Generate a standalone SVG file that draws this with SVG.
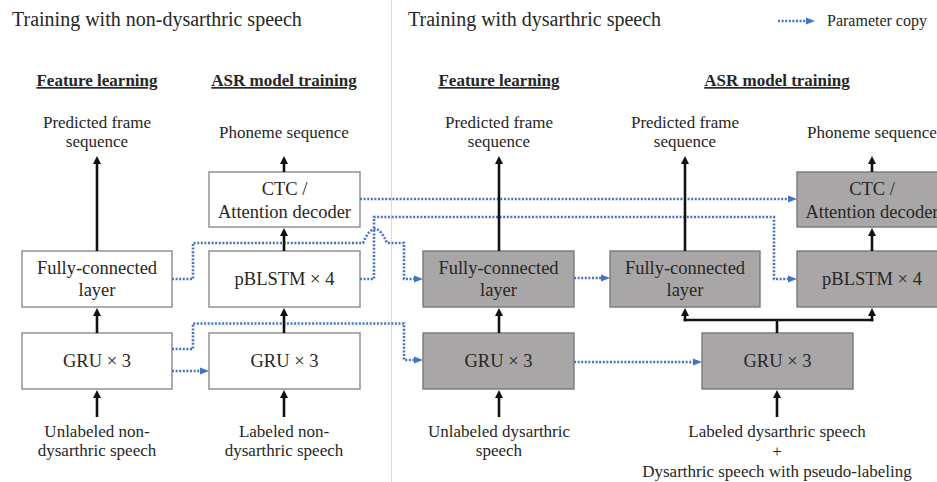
<svg xmlns="http://www.w3.org/2000/svg" width="937" height="482" viewBox="0 0 937 482" font-family="'Liberation Serif', 'DejaVu Serif', serif">
<style>
text{font-family:'Liberation Serif','DejaVu Serif',serif;fill:#262626;text-anchor:middle}
.title{font-size:20px;text-anchor:start}
.legend{font-size:16px;text-anchor:start}
.hdr{font-size:17px;font-weight:bold;text-decoration:underline}
.lbl{font-size:17px}
.box{font-size:18.5px}
.w{fill:#ffffff;stroke:#8a8a8a;stroke-width:1.4}
.g{fill:#a8a6a6;stroke:#7a7a7a;stroke-width:1.4}
.arr{fill:none;stroke:#111;stroke-width:2.6;marker-end:url(#ah)}
.ln{fill:none;stroke:#111;stroke-width:2.6}
.cp{fill:none;stroke:#4472C4;stroke-width:2.6;stroke-dasharray:2 1.6;marker-end:url(#bh)}
</style>
<defs>
<marker id="ah" markerUnits="userSpaceOnUse" markerWidth="8" markerHeight="8" refX="1" refY="4" orient="auto">
<path d="M0,0 L8,4 L0,8 z" fill="#111"/>
</marker>
<marker id="bh" markerUnits="userSpaceOnUse" markerWidth="9" markerHeight="8" refX="1" refY="4" orient="auto">
<path d="M0,0.5 L9,4 L0,7.5 z" fill="#4472C4"/>
</marker>
</defs>
<rect x="0" y="0" width="937" height="482" fill="#ffffff"/>
<line x1="391.5" y1="0" x2="391.5" y2="482" stroke="#dcdcdc" stroke-width="1"/>

<text class="title" x="12" y="26">Training with non-dysarthric speech</text>
<text class="title" x="408" y="26">Training with dysarthric speech</text>
<g id="legend">
<path class="cp" d="M778,21 H807"/>
<text class="legend" x="827" y="26">Parameter copy</text>
</g>

<text class="hdr" x="97" y="86">Feature learning</text>
<text class="hdr" x="284" y="86">ASR model training</text>
<text class="hdr" x="499" y="86">Feature learning</text>
<text class="hdr" x="777" y="86">ASR model training</text>

<g id="out-left-pred"><text class="lbl" x="97" y="127.5">Predicted frame</text><text class="lbl" x="97" y="147">sequence</text></g>
<g id="out-left-phon"><text class="lbl" x="284" y="137.5">Phoneme sequence</text></g>
<g id="out-right-pred1"><text class="lbl" x="499" y="127.5">Predicted frame</text><text class="lbl" x="499" y="147">sequence</text></g>
<g id="out-right-pred2"><text class="lbl" x="685" y="127.5">Predicted frame</text><text class="lbl" x="685" y="147">sequence</text></g>
<g id="out-right-phon"><text class="lbl" x="872" y="137.5">Phoneme sequence</text></g>

<g id="in-left1"><text class="lbl" x="97" y="436.5">Unlabeled non-</text><text class="lbl" x="97" y="456">dysarthric speech</text></g>
<g id="in-left2"><text class="lbl" x="284" y="436.5">Labeled non-</text><text class="lbl" x="284" y="456">dysarthric speech</text></g>
<g id="in-right1"><text class="lbl" x="499" y="436.5">Unlabeled dysarthric</text><text class="lbl" x="499" y="456">speech</text></g>
<g id="in-right2"><text class="lbl" x="777" y="436.5">Labeled dysarthric speech</text><text class="lbl" x="777" y="456.5">+</text><text class="lbl" x="777" y="476.5">Dysarthric speech with pseudo-labeling</text></g>

<g id="fc-left"><rect class="w" x="22" y="251" width="150" height="56"/><text class="box" x="97" y="273.5">Fully-connected</text><text class="box" x="97" y="296">layer</text></g>
<g id="gru-left1"><rect class="w" x="22" y="333" width="150" height="56"/><text class="box" x="97" y="367">GRU × 3</text></g>
<g id="ctc-left"><rect class="w" x="209" y="172" width="151" height="55"/><text class="box" x="284.5" y="194.5">CTC /</text><text class="box" x="284.5" y="217.5">Attention decoder</text></g>
<g id="pblstm-left"><rect class="w" x="209" y="251" width="151" height="56"/><text class="box" x="284.5" y="285">pBLSTM × 4</text></g>
<g id="gru-left2"><rect class="w" x="209" y="333" width="151" height="56"/><text class="box" x="284.5" y="367">GRU × 3</text></g>

<g id="fc-right1"><rect class="g" x="423" y="251" width="151" height="56"/><text class="box" x="498.5" y="273.5">Fully-connected</text><text class="box" x="498.5" y="296">layer</text></g>
<g id="gru-right1"><rect class="g" x="423" y="333" width="151" height="56"/><text class="box" x="498.5" y="367">GRU × 3</text></g>
<g id="fc-right2"><rect class="g" x="610" y="251" width="150" height="56"/><text class="box" x="685" y="273.5">Fully-connected</text><text class="box" x="685" y="296">layer</text></g>
<g id="gru-right2"><rect class="g" x="702" y="333" width="151" height="56"/><text class="box" x="777.5" y="367">GRU × 3</text></g>
<g id="ctc-right"><rect class="g" x="797" y="172" width="150" height="55"/><text class="box" x="872" y="194.5">CTC /</text><text class="box" x="872" y="217.5">Attention decoder</text></g>
<g id="pblstm-right"><rect class="g" x="797" y="251" width="150" height="56"/><text class="box" x="872" y="285">pBLSTM × 4</text></g>

<g id="connectors">
<path class="cp" d="M360,199 H789"/>
<path class="cp" d="M360,279 H374 V217 H774 V279 H789"/>
<path class="cp" d="M172,279 H193 V243 H363 Q375,215 387,243 H404 V279 H415"/>
<path class="cp" d="M172,349 H193 V323.5 H404 V360 H415"/>
<path class="cp" d="M172,371 H201"/>
<path class="cp" d="M574,278 H602"/>
<path class="cp" d="M574,362 H694"/>

<path class="arr" d="M97,251 V163"/>
<path class="arr" d="M97,333 V315"/>
<path class="arr" d="M97,417 V397"/>
<path class="arr" d="M284,172 V163"/>
<path class="arr" d="M284,251 V235"/>
<path class="arr" d="M284,333 V315"/>
<path class="arr" d="M284,417 V397"/>
<path class="arr" d="M499,251 V163"/>
<path class="arr" d="M499,333 V315"/>
<path class="arr" d="M499,417 V397"/>
<path class="arr" d="M685,251 V163"/>
<path class="arr" d="M872,172 V163"/>
<path class="arr" d="M872,251 V235"/>
<path class="arr" d="M777,417 V397"/>
<path class="ln" d="M777,333 V320"/>
<path class="ln" d="M683.7,320 H873.3"/>
<path class="arr" d="M685,321.3 V315"/>
<path class="arr" d="M872,321.3 V315"/>
</g>
</svg>
